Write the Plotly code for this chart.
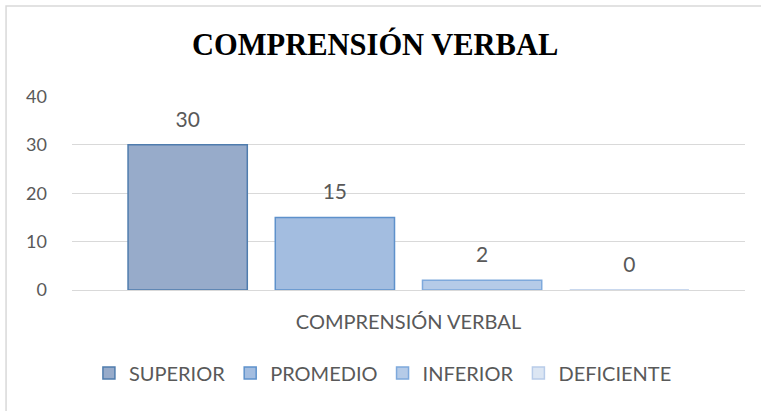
import plotly.graph_objects as go

categories = ["COMPRENSIÓN VERBAL"]
series_names = ["SUPERIOR", "PROMEDIO", "INFERIOR", "DEFICIENTE"]
series_values = [[30], [15], [2], [0]]
fill_colors = ["#97abca", "#a3bde0", "#b5cbe8", "#dce6f3"]
line_colors = ["#4f7cad", "#5e91cb", "#7ea9dc", "#b8cce9"]
y_ticks = [0, 10, 20, 30, 40]

TXT = "#595959"
FONT = "Lato, 'Open Sans', sans-serif"

fig = go.Figure()
for i, (name, vals, fc, lc) in enumerate(zip(series_names, series_values, fill_colors, line_colors)):
    fig.add_trace(go.Bar(
        name=name, x=categories, y=vals, offsetgroup=str(i),
        marker=dict(color=fc, line=dict(color=lc, width=1.5)),
        hoverinfo="name+y",
    ))
# data labels, grouped with the bars
for i, (name, vals) in enumerate(zip(series_names, series_values)):
    fig.add_trace(go.Scatter(
        x=categories, y=vals, offsetgroup=str(i), mode="markers+text",
        text=[str(v) for v in vals], textposition="top center",
        textfont=dict(family=FONT, size=21, color=TXT),
        marker=dict(size=19, opacity=0), showlegend=False, hoverinfo="skip",
        cliponaxis=False,
    ))

fig.update_layout(
    width=761, height=411,
    margin=dict(l=72, r=16, t=96, b=121),
    paper_bgcolor="white", plot_bgcolor="white",
    barmode="group", bargap=0.125, bargroupgap=0.19,
    scattermode="group", scattergap=0.125,
    title=dict(text="<b>COMPRENSIÓN VERBAL</b>", x=0.493, xanchor="center",
               y=0.893, yanchor="middle",
               font=dict(family="'Liberation Serif', 'Times New Roman', serif", size=30.5, color="black")),
    font=dict(family=FONT, color=TXT),
    showlegend=True,
    legend=dict(orientation="h", x=0.462, xanchor="center", y=-0.428, yanchor="middle",
                font=dict(family=FONT, size=20, color=TXT), traceorder="normal"),
    shapes=[dict(type="rect", xref="paper", yref="paper", x0=-0.098, x1=1.05, y0=-0.7, y1=1.464,
                 line=dict(color="#d9d9d9", width=1.5), fillcolor="rgba(0,0,0,0)", layer="above")],
)
fig.update_yaxes(range=[0, 40.1], tickvals=y_ticks, showgrid=True, gridcolor="#d9d9d9", gridwidth=1,
                 zeroline=True, zerolinecolor="#d9d9d9", zerolinewidth=1, showline=False,
                 tickfont=dict(family=FONT, size=18, color=TXT), ticklabelstandoff=24)
fig.update_xaxes(showline=False, tickfont=dict(family=FONT, size=20, color=TXT), ticklabelstandoff=18)

fig.write_html("out.html", config={"displayModeBar": False},
               post_script="document.body.style.margin='0';")
